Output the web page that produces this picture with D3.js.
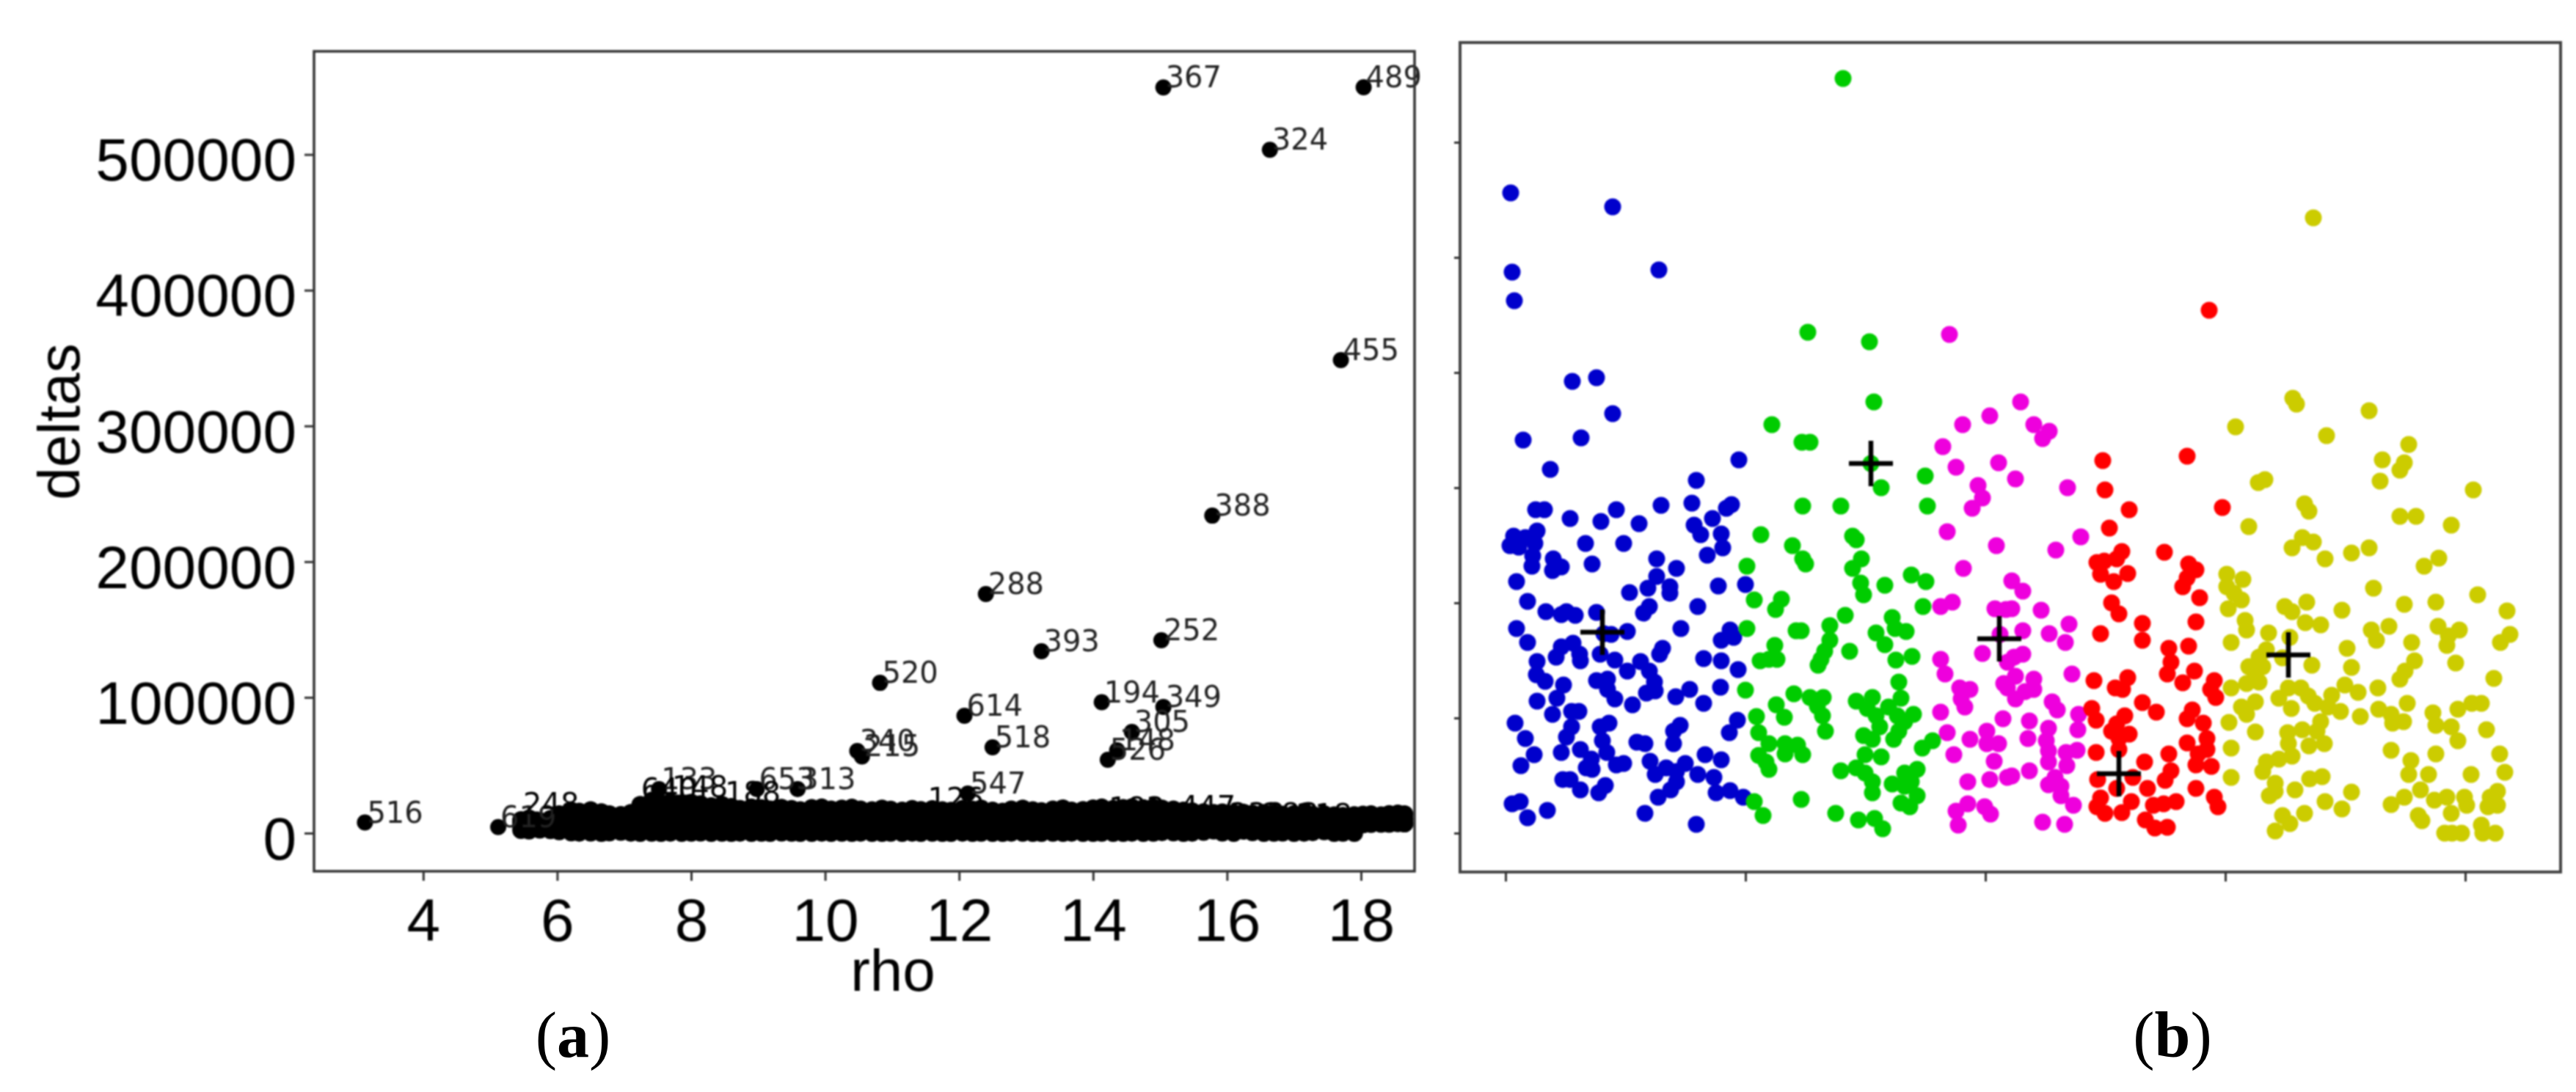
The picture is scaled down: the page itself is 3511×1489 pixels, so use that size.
<!DOCTYPE html>
<html>
<head>
<meta charset="utf-8">
<script src="https://cdn.jsdelivr.net/npm/d3@7"></script>
<style>
  html, body { margin: 0; padding: 0; background: #fff; }
  text { font-family: "Liberation Sans", Arial, sans-serif; }
</style>
</head>
<body>
<div id="chart"></div>
<script>
// panel (a) ticks
var rhoTicks = [4, 6, 8, 10, 12, 14, 16, 18];
var deltaTicks = [0, 100000, 200000, 300000, 400000, 500000];

// panel (a) points that stand clear of the band, with their labels
var namedLabels = ["367", "489", "324", "455", "388", "288", "393", "252", "520", "614", "194", "349", "305", "148", "518", "526", "340", "215", "653", "313", "547", "516", "619", "133"];
var namedRho = [15.05, 18.04, 16.64, 17.70, 15.78, 12.40, 13.23, 15.02, 10.82, 12.08, 14.13, 15.05, 14.58, 14.36, 12.50, 14.22, 10.48, 10.55, 8.98, 9.59, 12.13, 3.13, 5.12, 7.52];
var namedDelta = [549400, 549500, 503500, 348500, 233900, 176100, 134000, 142100, 110700, 86400, 96400, 93000, 74600, 61000, 63200, 54000, 60500, 56500, 32400, 32400, 29200, 7800, 4500, 32400];

// labels that only just show above the band
var bandLabels = ["248", "640", "148", "188", "126", "183", "447", "232", "283", "218"];
var bandLabelRho = [5.46, 7.22, 7.68, 8.47, 11.50, 14.20, 15.26, 16.00, 16.50, 17.00];
var bandLabelDelta = [14000, 25000, 26500, 22000, 17800, 11000, 11900, 6500, 6500, 6000];

// the solid band along the bottom of panel (a), read as four rows of dots
var bandRho = [5.46, 5.58, 5.74, 5.9, 6.03, 6.21, 6.33, 6.5, 6.66, 6.78, 6.95, 7.1, 7.24, 7.41, 7.55, 7.69, 7.86, 8.0, 8.14, 8.3, 8.46, 8.6, 8.73, 8.9, 9.05, 9.18, 9.35, 9.5, 9.63, 9.8, 9.95, 10.09, 10.25, 10.4, 10.53, 10.7, 10.85, 10.98, 11.15, 11.3, 11.43, 11.6, 11.75, 11.88, 12.05, 12.2, 12.33, 12.5, 12.65, 12.78, 12.95, 13.1, 13.23, 13.4, 13.55, 13.68, 13.85, 14.0, 14.13, 14.3, 14.45, 14.58, 14.75, 14.9, 15.03, 15.2, 15.35, 15.48, 15.65, 15.8, 15.93, 16.1, 16.25, 16.38, 16.55, 16.7, 16.83, 17.0, 17.15, 17.28, 17.45, 17.6, 17.73, 17.9, 18.03, 18.15, 18.3, 18.42, 18.55, 18.65];
var bandTop = [9700, 11000, 9000, 10500, 14000, 16700, 16000, 17000, 15500, 14000, 13500, 15000, 21000, 24000, 22000, 23000, 21000, 22500, 21500, 20000, 21000, 19500, 18000, 19000, 18500, 17500, 18800, 18000, 17000, 18600, 19000, 17500, 18200, 18900, 17600, 17000, 18200, 17400, 16800, 18000, 17200, 17800, 17000, 16600, 18000, 17400, 18200, 16800, 16000, 17500, 18200, 17000, 16400, 17600, 18400, 16800, 17200, 18400, 19000, 18000, 18600, 19200, 18500, 19000, 18200, 17500, 16800, 16200, 15500, 15000, 15400, 14800, 15200, 14500, 15000, 14600, 13800, 14200, 14600, 13600, 14000, 13200, 12800, 13400, 13800, 14000, 13200, 14200, 14600, 14000];
var bandUpper = [7500, 8000, 7000, 8200, 9500, 12500, 12000, 11500, 12800, 12000, 11800, 12400, 14000, 15000, 13500, 14400, 13200, 14000, 12800, 13600, 12500, 13000, 12400, 13500, 12000, 12800, 13200, 12500, 13000, 12200, 13400, 12600, 12000, 13000, 12400, 13200, 12000, 12800, 12500, 13400, 12200, 12800, 12000, 13000, 12500, 13200, 12400, 12000, 12800, 13000, 12200, 12600, 13400, 12000, 12800, 12400, 13000, 12500, 12000, 13200, 12600, 12800, 12000, 13000, 12400, 12200, 11800, 12000, 11500, 11000, 11400, 10800, 11200, 10500, 11000, 10400, 10800, 10200, 10600, 10000, 10400, 9800, 10200, 10000, 10400, 10800, 10200, 10600, 10800, 10400];
var bandLower = [5500, 6000, 4500, 5000, 6500, 6000, 5800, 6400, 5600, 6000, 5400, 5800, 6200, 5500, 6000, 6400, 5600, 5800, 6200, 5400, 6000, 6300, 5500, 5900, 6100, 5600, 6000, 5400, 5800, 6200, 5700, 6000, 5500, 6300, 5800, 5600, 6100, 5400, 6000, 5800, 6200, 5500, 5900, 6000, 5600, 6300, 5700, 5500, 6100, 5800, 6000, 5400, 6200, 5600, 5900, 6000, 5500, 6200, 5800, 5600, 6000, 5400, 6100, 5700, 5900, 6000, 5500, 6200, 5600, 5800, 6000, 5400, 5900, 6100, 5500, 5800, 6000, 5600, 6200, 5700, 5900, 5400, 6000, 5800, 6300, 6600, 6800, 7000, 7200, 7000];
var bandLow = [2200, 1800, 2400, 2000, 1200, 400, 200, 300, 0, 400, 800, 200, 0, 100, 0, 200, 0, 100, 300, 0, 100, 0, 200, 0, 100, 0, 300, 100, 0, 0, 200, 0, 100, 0, 200, 0, 0, 100, 0, 200, 0, 100, 0, 0, 200, 0, 100, 0, 0, 200, 100, 0, 0, 100, 0, 200, 0, 0, 100, 0, 0, 200, 0, 100, 600, 400, 0, 200, 800, 1800, 300, 0, 1600, 500, 0, 100, 300, 0, 200, 600, 1200, 0, 100, 0, 6500, 7000, 7200, 6800, 7400, 7000];

// panel (b) tick positions, the tick labels are blank in the picture
var xTicksB = [0, 327, 654, 981, 1308];
var yTicksB = [0, 157, 314, 471, 628, 785, 942];

// panel (b) clusters
var bluePoints = [[7,873],[146,854],[9,765],[209,768],[12,726],[124,621],[91,616],[146,572],[24,536],[103,539],[318,509],[61,496],[260,481],[212,447],[254,450],[308,448],[301,443],[41,441],[53,441],[88,429],[151,441],[130,425],[182,422],[282,429],[257,420],[266,407],[294,408],[296,389],[275,379],[109,395],[161,395],[43,412],[11,405],[27,403],[40,395],[6,392],[18,390],[37,378],[36,364],[65,374],[76,363],[64,358],[118,367],[206,374],[233,361],[206,350],[194,334],[224,336],[224,327],[169,328],[290,337],[327,339],[15,343],[30,316],[196,309],[188,300],[262,309],[55,302],[76,298],[83,302],[95,297],[124,301],[15,279],[30,260],[239,279],[166,275],[144,271],[134,272],[306,277],[311,267],[294,263],[214,252],[210,244],[92,259],[76,254],[69,240],[101,244],[102,235],[129,244],[149,236],[270,238],[294,235],[317,223],[43,234],[42,216],[54,207],[79,202],[184,234],[166,221],[196,221],[203,206],[204,194],[192,191],[124,208],[139,210],[139,196],[149,183],[232,186],[251,196],[293,199],[270,177],[173,175],[70,184],[43,180],[90,166],[100,166],[64,162],[316,154],[305,137],[13,150],[141,150],[129,145],[238,147],[229,139],[90,145],[83,131],[27,129],[132,126],[229,122],[179,124],[190,122],[39,107],[76,110],[102,114],[272,107],[294,100],[138,110],[117,101],[21,92],[197,98],[161,95],[151,93],[245,95],[219,89],[110,89],[118,87],[204,80],[233,84],[262,80],[284,76],[78,73],[88,73],[233,70],[225,59],[102,59],[136,65],[127,55],[208,49],[287,55],[306,58],[324,49],[20,43],[9,40],[57,31],[30,21],[190,27],[260,12]];
var greenPoints = [[460,1029],[412,683],[496,670],[502,588],[363,557],[404,533],[415,533],[498,504],[572,487],[512,471],[575,446],[405,446],[457,446],[348,407],[391,392],[473,405],[478,400],[405,374],[409,367],[485,374],[473,361],[329,364],[484,341],[488,325],[517,338],[553,352],[573,343],[339,318],[376,319],[368,305],[569,309],[463,297],[527,294],[531,279],[546,275],[329,279],[396,276],[403,276],[442,283],[442,263],[435,248],[430,237],[426,229],[505,273],[517,257],[469,248],[367,256],[347,235],[359,237],[370,237],[532,236],[554,241],[536,206],[539,184],[327,195],[393,190],[415,185],[433,185],[425,173],[432,160],[436,139],[369,175],[380,158],[342,159],[345,137],[478,180],[500,185],[493,170],[505,160],[510,145],[522,172],[534,160],[556,162],[544,152],[536,139],[529,128],[488,133],[500,128],[490,107],[512,104],[582,126],[568,116],[359,122],[381,122],[398,120],[405,107],[381,108],[345,106],[355,97],[359,87],[457,85],[478,89],[490,82],[500,70],[500,55],[561,87],[544,82],[553,70],[527,67],[561,51],[539,41],[551,36],[544,64],[339,43],[351,24],[403,46],[450,27],[481,18],[503,20],[514,6]];
var magentaPoints = [[605,680],[660,569],[623,557],[596,527],[614,499],[672,505],[702,588],[720,557],[741,548],[732,538],[644,474],[650,457],[636,443],[602,411],[669,392],[624,361],[695,483],[690,344],[705,330],[609,315],[593,309],[667,306],[682,305],[650,245],[593,237],[599,217],[619,198],[633,196],[621,183],[626,172],[593,165],[679,204],[684,198],[678,156],[602,137],[633,128],[656,139],[656,122],[672,122],[611,107],[666,98],[630,70],[660,73],[684,76],[630,40],[614,30],[653,36],[661,26],[617,11],[674,271],[684,233],[766,471],[784,404],[750,386],[730,304],[690,306],[768,285],[741,272],[763,260],[705,276],[705,244],[693,240],[772,217],[695,214],[720,210],[720,196],[708,193],[695,183],[745,179],[752,168],[781,162],[780,141],[714,153],[740,143],[712,129],[737,126],[740,112],[740,97],[779,113],[764,110],[765,92],[714,85],[690,78],[749,76],[740,66],[757,64],[757,51],[774,38],[732,15],[762,12]];
var redPoints = [[959,713],[814,508],[929,514],[817,468],[850,441],[823,416],[977,444],[898,383],[840,384],[833,374],[816,371],[806,369],[811,353],[848,354],[829,343],[931,367],[941,359],[929,348],[923,336],[946,321],[826,314],[836,299],[941,288],[868,286],[868,263],[811,272],[904,252],[931,255],[907,233],[902,217],[939,221],[923,205],[848,212],[831,198],[841,196],[802,208],[966,208],[961,196],[968,185],[868,178],[887,165],[799,170],[805,154],[844,160],[833,149],[826,139],[850,135],[836,129],[936,168],[929,156],[951,150],[956,129],[929,123],[956,114],[944,108],[941,93],[962,91],[805,110],[836,114],[904,108],[871,97],[907,85],[899,72],[807,73],[855,76],[875,61],[833,61],[941,61],[966,49],[971,36],[811,48],[806,36],[817,27],[853,43],[840,28],[914,43],[897,40],[883,38],[872,18],[885,7],[902,8]];
var yellowPoints = [[1101,839],[995,554],[1073,593],[1078,585],[1177,576],[1119,542],[1231,530],[1195,509],[1225,505],[1219,495],[1192,480],[1035,482],[1026,478],[1319,468],[1089,449],[1095,439],[1013,418],[1219,432],[1241,432],[1289,420],[1086,403],[1101,397],[1072,389],[1117,374],[1153,382],[1177,389],[1272,375],[1252,364],[983,353],[1005,346],[983,336],[993,327],[1003,318],[985,306],[1183,334],[1325,325],[1092,315],[1062,309],[1072,302],[1225,312],[1268,315],[1140,304],[1365,303],[1008,290],[1010,277],[1090,287],[1111,284],[1204,282],[1180,277],[1187,263],[1271,282],[1300,277],[1285,269],[1283,256],[1040,273],[1069,267],[989,260],[1235,260],[1369,271],[1356,260],[1147,252],[1037,250],[1027,240],[1013,227],[1032,227],[1022,214],[1010,204],[1027,206],[1239,235],[1226,221],[1219,210],[1295,232],[1059,239],[1099,229],[1153,226],[1347,211],[989,198],[1144,202],[1162,192],[1189,198],[1067,198],[1054,184],[1084,198],[1094,187],[1103,177],[1126,188],[1121,172],[1138,166],[1071,170],[1022,179],[1003,172],[1010,162],[1229,177],[1190,169],[1207,162],[1224,152],[1209,150],[1165,159],[1330,177],[1317,177],[1298,169],[1264,164],[1268,147],[1289,145],[1298,126],[1337,141],[986,151],[1111,152],[1106,139],[1086,141],[1022,138],[1066,137],[1067,122],[1072,105],[1054,101],[1037,97],[1095,119],[1116,122],[989,116],[1207,113],[1268,108],[1355,108],[1234,99],[1231,80],[1032,84],[1049,68],[1049,57],[1041,51],[989,76],[1113,77],[1096,74],[1076,59],[1258,80],[1316,80],[1362,83],[1153,56],[1117,43],[1140,33],[1247,59],[1225,49],[1207,39],[1266,45],[1283,49],[1307,49],[1310,38],[1352,57],[1342,49],[1352,38],[1339,36],[1289,27],[1089,27],[1059,24],[1069,13],[1049,3],[1244,24],[1249,17],[1280,0],[1303,0],[1290,0],[1330,11],[1332,0],[1349,0]];
var centerPoints = [[132,274],[498,504],[673,265],[836,81],[1067,243]];

var clusterColors = ["#0000cc", "#00cc00", "#ee00dd", "#ff0000", "#cccc00"];
var clusters = [bluePoints, greenPoints, magentaPoints, redPoints, yellowPoints];

var svg = d3.select("#chart").append("svg")
    .attr("width", 3511)
    .attr("height", 1489)
    .style("display", "block")
    .style("background", "#fff");

//Panel a
var xA = d3.scaleLinear().domain([2.37, 18.8]).range([428, 1928]);
var yA = d3.scaleLinear().domain([-28100, 576000]).range([1188, 70]);

var panelA = svg.append("g").style("filter", "blur(1px)");

// band rows first, the loose points and the labels go over them
[bandTop, bandUpper, bandLower, bandLow].forEach(function (row) {
    panelA.append("g").selectAll("circle")
        .data(row)
        .enter().append("circle")
        .attr("cx", function (d, i) { return xA(bandRho[i]); })
        .attr("cy", function (d) { return yA(d); })
        .attr("r", 12)
        .style("fill", "#000");
});

panelA.append("g").selectAll("circle")
    .data(namedLabels)
    .enter().append("circle")
    .attr("cx", function (d, i) { return xA(namedRho[i]); })
    .attr("cy", function (d, i) { return yA(namedDelta[i]); })
    .attr("r", 11)
    .style("fill", "#000");

panelA.append("g").selectAll("text")
    .data(namedLabels)
    .enter().append("text")
    .attr("x", function (d, i) { return xA(namedRho[i]) + 3; })
    .attr("y", function (d, i) { return yA(namedDelta[i]); })
    .style("font-family", "'DejaVu Sans'")
    .style("font-size", "40px")
    .style("fill", "#222")
    .text(function (d) { return d; });

panelA.append("g").selectAll("text")
    .data(bandLabels)
    .enter().append("text")
    .attr("x", function (d, i) { return xA(bandLabelRho[i]) + 3; })
    .attr("y", function (d, i) { return yA(bandLabelDelta[i]); })
    .style("font-family", "'DejaVu Sans'")
    .style("font-size", "40px")
    .style("fill", "#000")
    .text(function (d) { return d; });

panelA.append("rect")
    .attr("x", 428).attr("y", 70)
    .attr("width", 1500).attr("height", 1118)
    .style("fill", "none")
    .style("stroke", "#333")
    .style("stroke-width", 3.5);

var axisXA = panelA.append("g")
    .attr("transform", "translate(0,1188)")
    .call(d3.axisBottom(xA).tickValues(rhoTicks).tickSize(13).tickSizeOuter(0).tickPadding(24).tickFormat(d3.format("d")));
var axisYA = panelA.append("g")
    .attr("transform", "translate(428,0)")
    .call(d3.axisLeft(yA).tickValues(deltaTicks).tickSize(13).tickSizeOuter(0).tickPadding(11).tickFormat(d3.format("d")));

[axisXA, axisYA].forEach(function (axis) {
    axis.select(".domain").remove();
    axis.selectAll("line").style("stroke", "#333").style("stroke-width", 3);
    axis.selectAll("text")
        .style("font-family", "'Liberation Sans'")
        .style("font-size", "82px")
        .style("fill", "#000");
});
axisYA.selectAll("text").attr("dy", "0.43em");

panelA.append("text")
    .attr("x", 1217).attr("y", 1351)
    .style("text-anchor", "middle")
    .style("font-size", "80px")
    .text("rho");

panelA.append("text")
    .attr("transform", "translate(108,575) rotate(-90)")
    .style("text-anchor", "middle")
    .style("font-size", "80px")
    .text("deltas");

//Panel b
var xB = d3.scaleLinear().domain([-62, 1438]).range([1990, 3490]);
var yB = d3.scaleLinear().domain([-53, 1078]).range([1189, 58]);

var panelB = svg.append("g").style("filter", "blur(1px)");

clusters.forEach(function (points, k) {
    panelB.append("g").selectAll("circle")
        .data(points)
        .enter().append("circle")
        .attr("cx", function (d) { return xB(d[0]); })
        .attr("cy", function (d) { return yB(d[1]); })
        .attr("r", 11.5)
        .style("fill", clusterColors[k]);
});

panelB.append("g").selectAll("path")
    .data(centerPoints)
    .enter().append("path")
    .attr("transform", function (d) { return "translate(" + xB(d[0]) + "," + yB(d[1]) + ")"; })
    .attr("d", "M-30,0H30M0,-31V31")
    .style("fill", "none")
    .style("stroke", "#000")
    .style("stroke-width", 6.5);

panelB.append("rect")
    .attr("x", 1990).attr("y", 58)
    .attr("width", 1500).attr("height", 1131)
    .style("fill", "none")
    .style("stroke", "#444")
    .style("stroke-width", 4);

var axisXB = panelB.append("g")
    .attr("transform", "translate(0,1189)")
    .call(d3.axisBottom(xB).tickValues(xTicksB).tickSize(13).tickSizeOuter(0).tickFormat(""));
var axisYB = panelB.append("g")
    .attr("transform", "translate(1990,0)")
    .call(d3.axisLeft(yB).tickValues(yTicksB).tickSize(8).tickSizeOuter(0).tickFormat(""));

[axisXB, axisYB].forEach(function (axis) {
    axis.select(".domain").remove();
    axis.selectAll("line").style("stroke", "#333").style("stroke-width", 3);
});

// sub figure captions, these stay sharp in the picture
var captions = svg.append("g");
[["a", 781], ["b", 2961]].forEach(function (c) {
    var t = captions.append("text")
        .attr("x", c[1]).attr("y", 1441)
        .style("text-anchor", "middle")
        .style("font-family", "'Liberation Serif'")
        .style("font-size", "88px")
        .style("fill", "#000");
    t.append("tspan").text("(");
    t.append("tspan").style("font-weight", "bold").text(c[0]);
    t.append("tspan").text(")");
});
</script>
</body>
</html>
